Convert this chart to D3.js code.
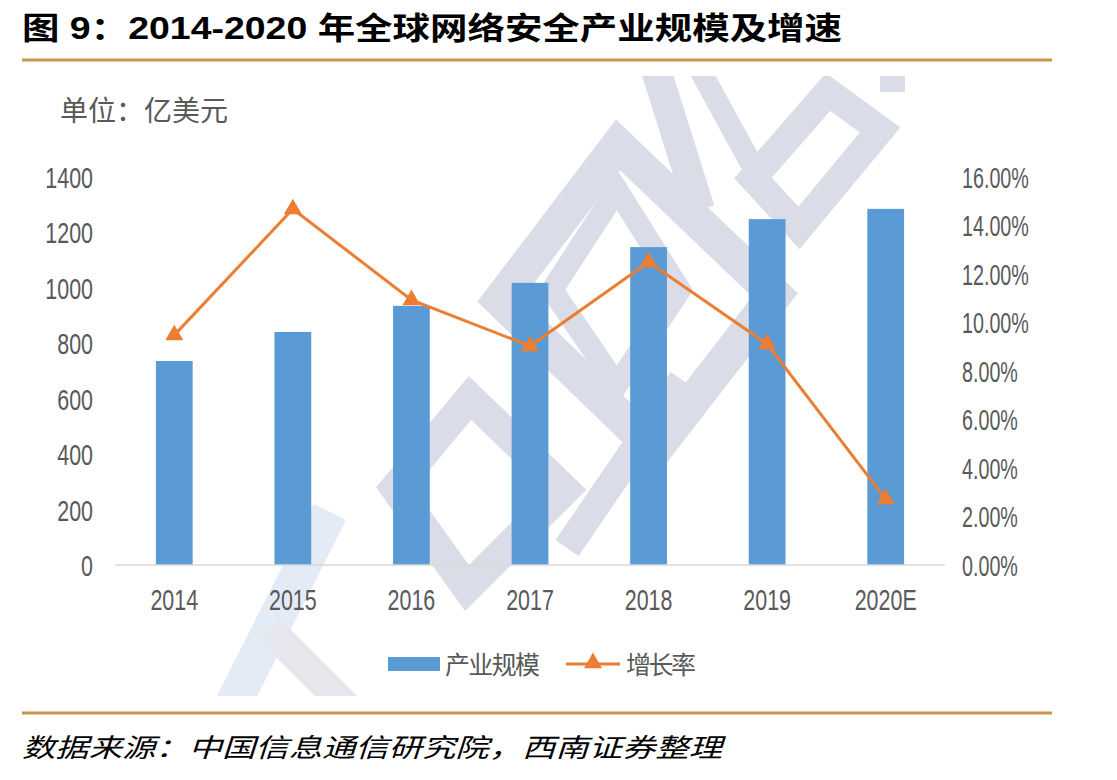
<!DOCTYPE html>
<html>
<head>
<meta charset="utf-8">
<script src="https://cdn.jsdelivr.net/npm/d3@7"></script>
<style>
  body { margin: 0; background: #fff; }
  text { font-family: "Liberation Sans", "Noto Sans CJK SC", sans-serif; }
</style>
</head>
<body>
<script>
// data
years = ['2014', '2015', '2016', '2017', '2018', '2019', '2020E'];
scale_vals = [736, 841, 935, 1018, 1147, 1248, 1285];      // 亿美元
growth_vals = [9.48, 14.68, 10.93, 9.03, 12.49, 9.11, 2.72]; // %
left_ticks = [0, 200, 400, 600, 800, 1000, 1200, 1400];
right_ticks = [0, 2, 4, 6, 8, 10, 12, 14, 16];

width = 1117, height = 780;
svg = d3.select('body').append('svg')
	.attr('width', width)
	.attr('height', height);

gold = '#C8964B';
grey = '#595959';
blue = '#5B9BD5';
orange = '#ED7D31';

// squeeze digits horizontally, the original uses a narrow face
function squeeze(sel, k, dy) {
	sel.each(function() {
		t = d3.select(this);
		x0 = +t.attr('x') || 0;
		t.attr('x', 0).attr('y', 0)
			.attr('transform', 'translate(' + x0 + ',' + (dy || 0) + ') scale(' + k + ',1)');
	});
}

// faint logo watermark behind the chart (decoration only)
svg.append('clipPath').attr('id', 'wmclip')
	.append('rect').attr('x', 30).attr('y', 76).attr('width', 1020).attr('height', 620);
wm = svg.append('g')
	.attr('clip-path', 'url(#wmclip)')
	.attr('fill', 'none')
	.attr('stroke', '#DADDE7')
	.attr('stroke-linejoin', 'miter');
wm_diamonds = [
	[[[500, 300], [618, 145], [775, 295], [655, 450]], 34],
	[[[552, 290], [617, 190], [680, 290], [617, 385]], 22],
	[[[395, 488], [470, 398], [565, 490], [467, 588]], 30],
	[[[753, 178], [828, 92], [880, 130], [799, 228]], 28]
];
wm_diamonds.forEach(function(d) {
	wm.append('path')
		.attr('d', d3.line()(d[0]) + 'Z')
		.attr('stroke-width', d[1]);
});
wm_bands = [
	[[656, 70], [700, 210], 30, '#DADDE7'],
	[[700, 70], [760, 180], 22, '#DADDE7'],
	[[682, 380], [567, 548], 28, '#DADDE7'],
	[[880, 84], [905, 84], 16, '#DADDE7'],
	[[330, 512], [225, 720], 36, '#E3ECF6'],
	[[268, 628], [360, 720], 30, '#E6E8EE']
];
wm_bands.forEach(function(b) {
	wm.append('line')
		.attr('x1', b[0][0]).attr('y1', b[0][1])
		.attr('x2', b[1][0]).attr('y2', b[1][1])
		.attr('stroke', b[3])
		.attr('stroke-width', b[2]);
});

// title
svg.append('text')
	.attr('x', 22).attr('y', 39)
	.attr('font-size', 31)
	.attr('font-weight', 'bold')
	.attr('fill', '#000')
	.attr('textLength', 820)
	.attr('lengthAdjust', 'spacingAndGlyphs')
	.text('图 9：2014-2020 年全球网络安全产业规模及增速');

svg.append('line')
	.attr('x1', 22).attr('x2', 1052)
	.attr('y1', 60).attr('y2', 60)
	.attr('stroke', gold).attr('stroke-width', 3);

svg.append('text')
	.attr('x', 60).attr('y', 121)
	.attr('font-size', 28)
	.attr('fill', grey)
	.style('font-family', '"Noto Sans CJK SC", sans-serif')
	.text('单位：亿美元');

// scales
xScale = d3.scaleBand()
	.domain(years)
	.range([115, 945])
	.paddingInner(0.69)
	.paddingOuter(0.345);
yScale = d3.scaleLinear()
	.domain([0, 1400])
	.range([565, 177]);
y2Scale = d3.scaleLinear()
	.domain([0, 16])
	.range([565, 177]);

// bars
svg.selectAll('rect.bar')
	.data(scale_vals)
	.enter().append('rect')
	.attr('class', 'bar')
	.attr('x', (d, i) => xScale(years[i]))
	.attr('width', xScale.bandwidth())
	.attr('y', d => yScale(d))
	.attr('height', d => yScale(0) - yScale(d))
	.attr('fill', blue);

// x axis line
svg.append('line')
	.attr('x1', 115).attr('x2', 945)
	.attr('y1', yScale(0)).attr('y2', yScale(0))
	.attr('stroke', '#D9D9D9').attr('stroke-width', 1.5);

// axes
leftAxis = svg.append('g')
	.attr('transform', 'translate(103,0)')
	.call(d3.axisLeft(yScale).tickValues(left_ticks).tickSize(0).tickPadding(10)
		.tickFormat(d3.format('d')));
rightAxis = svg.append('g')
	.attr('transform', 'translate(952,0)')
	.call(d3.axisRight(y2Scale).tickValues(right_ticks).tickSize(0).tickPadding(10)
		.tickFormat(d => d.toFixed(2) + '%'));
bottomAxis = svg.append('g')
	.attr('transform', 'translate(0,' + yScale(0) + ')')
	.call(d3.axisBottom(xScale).tickSize(0));

[leftAxis, rightAxis, bottomAxis].forEach(function(g) {
	g.select('.domain').remove();
	g.selectAll('text')
		.attr('font-size', 29)
		.attr('fill', grey)
		.style('font-family', '"Liberation Sans", sans-serif');
});
leftAxis.selectAll('text').attr('dy', '0.36em');
rightAxis.selectAll('text').attr('dy', '0.36em');
bottomAxis.selectAll('text').attr('dy', 0);
squeeze(leftAxis.selectAll('text'), 0.74);
squeeze(rightAxis.selectAll('text'), 0.68);
squeeze(bottomAxis.selectAll('text'), 0.74, 45);

// growth line
pts_to_path = d3.line()
	.x((d, i) => xScale(years[i]) + xScale.bandwidth() / 2)
	.y(d => y2Scale(d));
svg.append('path')
	.attr('d', pts_to_path(growth_vals))
	.attr('fill', 'none')
	.attr('stroke', orange)
	.attr('stroke-width', 3);

tri = d3.symbol().type(d3.symbolTriangle).size(140);
svg.selectAll('path.marker')
	.data(growth_vals)
	.enter().append('path')
	.attr('class', 'marker')
	.attr('d', tri)
	.attr('transform', (d, i) => 'translate(' + (xScale(years[i]) + xScale.bandwidth() / 2) + ',' + y2Scale(d) + ')')
	.attr('fill', orange);

// legend
legend = svg.append('g');
legend.append('rect')
	.attr('x', 388).attr('y', 657)
	.attr('width', 52).attr('height', 14)
	.attr('fill', blue);
legend.append('text')
	.attr('x', 445).attr('y', 674)
	.attr('font-size', 25)
	.attr('fill', grey)
	.style('font-family', '"Noto Sans CJK SC", sans-serif')
	.attr('textLength', 95)
	.text('产业规模');
legend.append('line')
	.attr('x1', 566).attr('x2', 620)
	.attr('y1', 664).attr('y2', 664)
	.attr('stroke', orange).attr('stroke-width', 3);
legend.append('path')
	.attr('d', tri)
	.attr('transform', 'translate(593,663)')
	.attr('fill', orange);
legend.append('text')
	.attr('x', 626).attr('y', 674)
	.attr('font-size', 25)
	.attr('fill', grey)
	.style('font-family', '"Noto Sans CJK SC", sans-serif')
	.attr('textLength', 70)
	.text('增长率');

// bottom rule and source
svg.append('line')
	.attr('x1', 22).attr('x2', 1052)
	.attr('y1', 713).attr('y2', 713)
	.attr('stroke', gold).attr('stroke-width', 3);
svg.append('text')
	.attr('x', 22).attr('y', 757)
	.attr('font-size', 26)
	.attr('font-style', 'italic')
	.attr('fill', '#000')
	.style('font-family', '"Noto Sans CJK SC", sans-serif')
	.attr('textLength', 700)
	.attr('lengthAdjust', 'spacingAndGlyphs')
	.text('数据来源：中国信息通信研究院，西南证券整理');
</script>
</body>
</html>
